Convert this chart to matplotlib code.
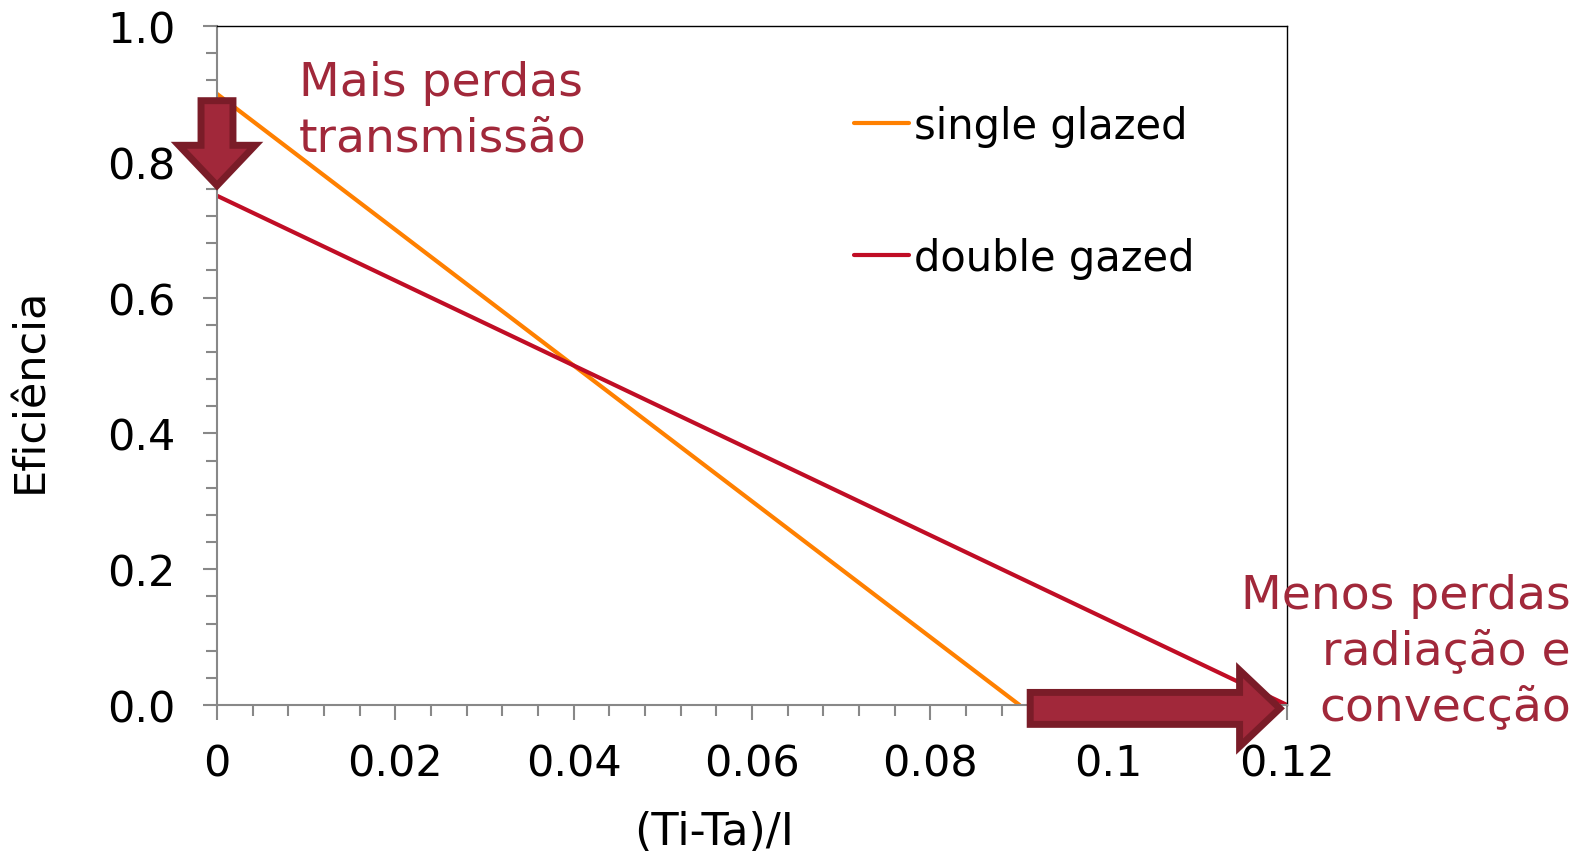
import matplotlib
matplotlib.use("Agg")
import matplotlib.pyplot as plt
from matplotlib.ticker import MultipleLocator, FuncFormatter

# data
x_single = [0.0, 0.09]
eff_single = [0.90, 0.0]
x_double = [0.0, 0.12]
eff_double = [0.75, 0.0]
series_labels = ["single glazed", "double gazed"]

# arrow annotations (data coords)
down_arrow_from = (0.0, 0.89)
down_arrow_to = (0.0, 0.765)
right_arrow_from = (0.0912, -0.005)
right_arrow_to = (0.1192, -0.005)

ARROW_FACE = "#A1283A"
ARROW_EDGE = "#7A1C28"
TEXT_RED = "#A1283A"

W, H = 1589, 853
fig = plt.figure(figsize=(W / 100, H / 100), dpi=100)
ax = fig.add_axes([217 / W, 147 / H, 1070 / W, 679 / H])

ax.plot(x_single, eff_single, color="#FF8000", lw=3, label=series_labels[0],
        solid_capstyle="round")
ax.plot(x_double, eff_double, color="#C00D25", lw=3, label=series_labels[1],
        solid_capstyle="round")

ax.set_xlim(0, 0.12)
ax.set_ylim(0, 1.0)
ax.xaxis.set_major_locator(MultipleLocator(0.02))
ax.xaxis.set_minor_locator(MultipleLocator(0.004))
ax.yaxis.set_major_locator(MultipleLocator(0.2))
ax.yaxis.set_minor_locator(MultipleLocator(0.04))
ax.xaxis.set_major_formatter(FuncFormatter(lambda v, p: f"{round(v, 3):g}"))
ax.yaxis.set_major_formatter(FuncFormatter(lambda v, p: f"{v:.1f}"))

for side in ("left", "bottom"):
    ax.spines[side].set_color("#888888")
    ax.spines[side].set_linewidth(1.5)
for side in ("top", "right"):
    ax.spines[side].set_color("black")
    ax.spines[side].set_linewidth(1.0)

ax.tick_params(axis="y", which="major", length=10, width=1.5, color="#888888",
               labelsize=31, pad=20)
ax.tick_params(axis="y", which="minor", length=8, width=1.5, color="#888888")
ax.tick_params(axis="x", which="major", length=11, width=1.5, color="#888888",
               labelsize=31, pad=16)
ax.tick_params(axis="x", which="minor", length=8, width=1.5, color="#888888")

ax.set_xlabel("(Ti-Ta)/I", fontsize=32)
ax.set_ylabel("Eficiência", fontsize=31)
ax.xaxis.set_label_coords(0.465, -0.155)
ax.yaxis.set_label_coords(-0.155, 0.465)

arrow_kw = dict(arrowstyle="simple,head_length=2.9,head_width=5.5,tail_width=2.3",
                mutation_scale=10, fc=ARROW_FACE, ec=ARROW_EDGE, lw=5,
                shrinkA=0, shrinkB=0, joinstyle="miter")
ax.annotate("", xy=down_arrow_to, xytext=down_arrow_from, arrowprops=arrow_kw,
            annotation_clip=False, zorder=5)
ax.annotate("", xy=right_arrow_to, xytext=right_arrow_from, arrowprops=arrow_kw,
            annotation_clip=False, zorder=5)

leg = ax.legend(loc="upper left", bbox_to_anchor=(854 / W, 1 - 106 / H),
                bbox_transform=fig.transFigure, frameon=False, fontsize=30,
                handlelength=1.33, handletextpad=0.12, labelspacing=2.15,
                borderpad=0, borderaxespad=0)

fig.text(299 / W, 1 - 152 / H, "Mais perdas\ntransmissão", fontsize=34,
         color=TEXT_RED, ha="left", va="baseline", linespacing=1.3)
fig.text(1571 / W, 1 - 720 / H, "Menos perdas\nradiação e\nconvecção", fontsize=34,
         color=TEXT_RED, ha="right", va="baseline", linespacing=1.3,
         multialignment="right")

fig.savefig("out.png", dpi=100)
